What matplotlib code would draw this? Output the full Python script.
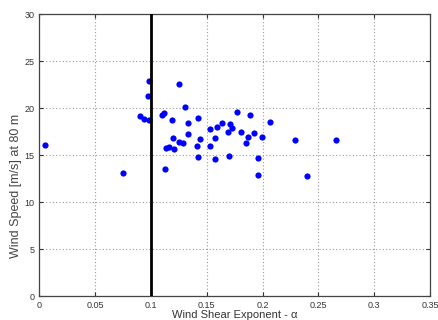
import matplotlib
matplotlib.use("Agg")
import matplotlib.pyplot as plt

# wind shear exponent (alpha) and wind speed at 80 m
alpha = [0.0054, 0.0754, 0.0898, 0.0934, 0.0985, 0.0985, 0.0973, 0.1095,
         0.1113, 0.1126, 0.1137, 0.1158, 0.1185, 0.1196, 0.1205, 0.1254,
         0.1254, 0.1283, 0.1308, 0.1329, 0.1335, 0.1409, 0.1418, 0.1418,
         0.1436, 0.1526, 0.1531, 0.1570, 0.1570, 0.1591, 0.1636, 0.1687,
         0.1703, 0.1707, 0.1730, 0.1768, 0.1811, 0.1853, 0.1867, 0.1885,
         0.1921, 0.1957, 0.1963, 0.1992, 0.2071, 0.2293, 0.2397, 0.2657]
speed = [16.03, 13.08, 19.16, 18.88, 18.77, 22.89, 21.31, 19.31,
         19.52, 13.48, 15.79, 15.85, 18.77, 16.86, 15.61, 22.61,
         16.41, 16.30, 20.06, 18.36, 17.24, 16.01, 18.91, 14.79,
         16.71, 16.01, 17.81, 16.78, 14.56, 17.97, 18.38, 17.42,
         14.86, 18.35, 17.83, 19.63, 17.42, 16.33, 16.92, 19.26,
         17.35, 14.65, 12.87, 16.87, 18.49, 16.60, 12.80, 16.64]
alpha_limit = 0.1

xticks = [0, 0.05, 0.1, 0.15, 0.2, 0.25, 0.3, 0.35]
xticklabels = ["0", "0.05", "0.1", "0.15", "0.2", "0.25", "0.3", "0.35"]
yticks = [0, 5, 10, 15, 20, 25, 30]


def main():
    plt.rcParams["font.family"] = ["Liberation Sans", "DejaVu Sans"]
    fig = plt.figure(figsize=(4.39, 3.2), dpi=100)
    ax = fig.add_axes([0.0895, 0.075, 0.89, 0.881])

    ax.scatter(alpha, speed, s=20, color="#0000ff", zorder=3, linewidths=0)
    ax.axvline(alpha_limit, color="black", lw=2, zorder=4)

    ax.set_xlim(0, 0.35)
    ax.set_ylim(0, 30)
    ax.set_xticks(xticks)
    ax.set_xticklabels(xticklabels)
    ax.set_yticks(yticks)
    ax.tick_params(direction="in", labelsize=6.5, colors="#333333",
                   length=3, top=True, right=True)
    ax.grid(True, linestyle=(0, (1, 2)), color="#999999", lw=0.8)
    for sp in ax.spines.values():
        sp.set_color("#444444")
        sp.set_linewidth(0.9)

    ax.set_xlabel("Wind Shear Exponent - \u03b1", fontsize=8, color="#333333",
                  labelpad=0)
    ax.set_ylabel("Wind Speed [m/s] at 80 m", fontsize=9, color="#444444")
    ax.yaxis.set_label_coords(-0.045, 0.39)

    fig.savefig("out.png", dpi=100)


if __name__ == "__main__":
    main()
